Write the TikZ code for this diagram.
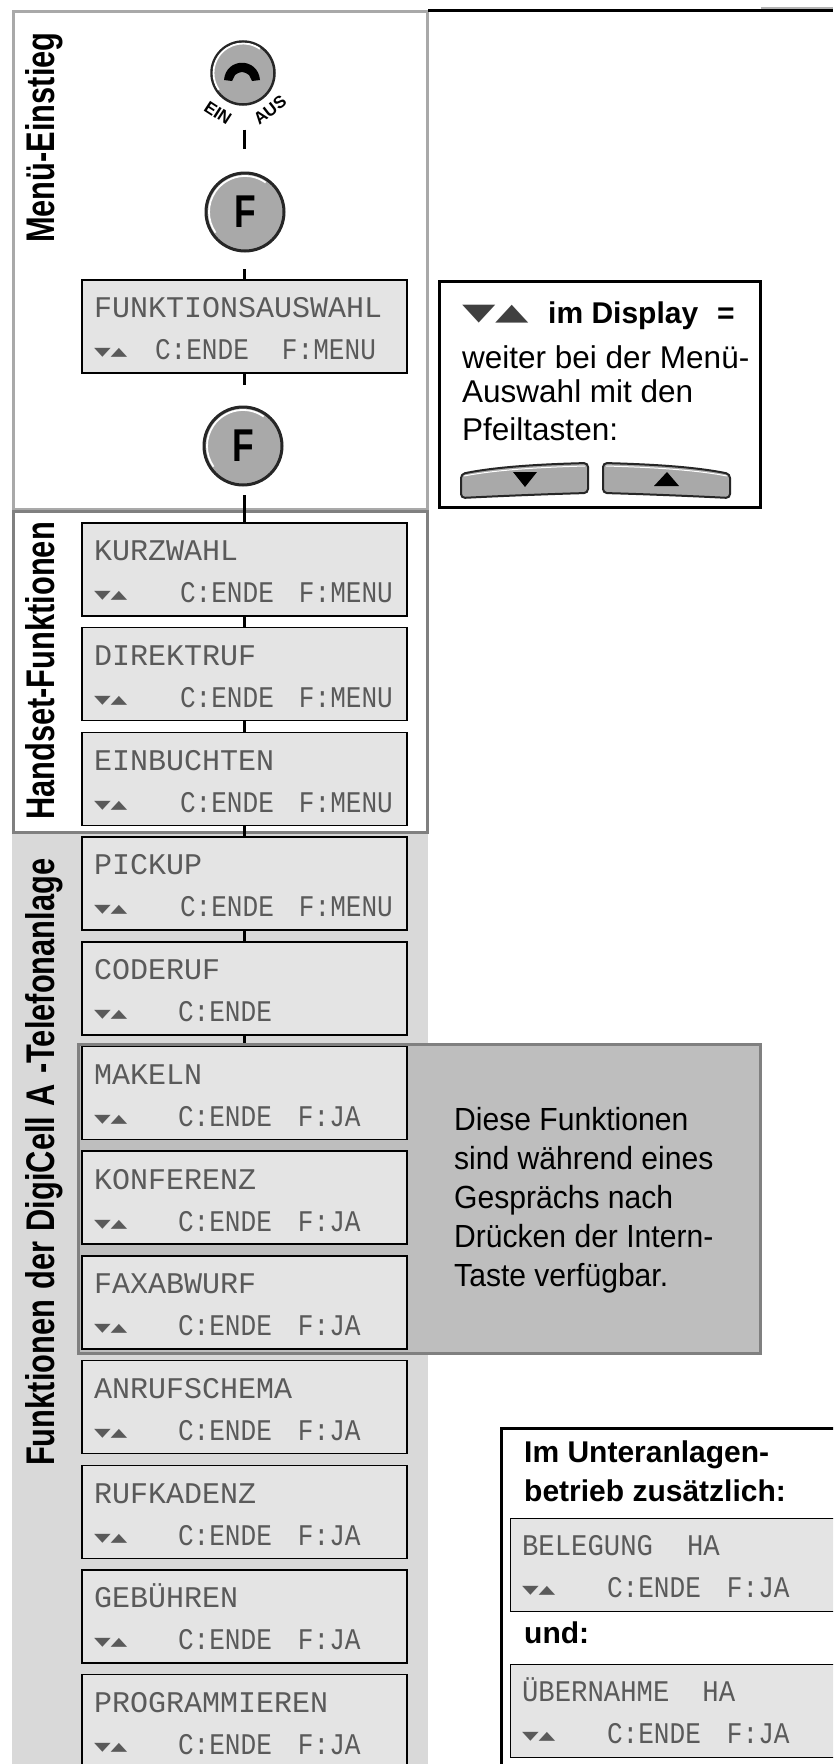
\documentclass[tikz,border=0pt]{standalone}
\usepackage{fontspec}
\usepackage{graphicx}
\usetikzlibrary{positioning}
\setmainfont{Liberation Sans}
\newfontfamily\lcdfont{Liberation Mono}
\newfontfamily\lcdlow[FakeStretch=.87]{Liberation Mono}
\newfontfamily\lcdmid[FakeStretch=.91]{Liberation Mono}
\newfontfamily\iconfont{DejaVu Sans}
\newfontfamily\narrowfont[FakeStretch=.94]{Liberation Sans}
\newfontfamily\sidefont[FakeStretch=.77]{Liberation Sans}
\definecolor{lcdgray}{HTML}{E4E4E4}
\definecolor{lcdink}{HTML}{5A5A5A}
\definecolor{bandgray}{HTML}{D9D9D9}
\definecolor{keygray}{HTML}{A9A9A9}
\definecolor{notegray}{HTML}{BEBEBE}
\newcommand{\arrowpair}{\scalebox{1.85}[1]{▾}\scalebox{1.85}[1]{▴}}
\newcommand{\lcdicon}{{\iconfont\fontsize{18}{18}\selectfont\raisebox{2pt}{\arrowpair}}}
\newcommand{\lcdtext}[3]{\rule{0pt}{25pt}{\lcdfont #1}\\\makebox[#2][l]{\lcdicon}{\lcdlow #3}}
\newcommand{\menuline}{C:ENDE\hspace{25pt}F:MENU}
\newcommand{\jaline}{C:ENDE\hspace{26pt}F:JA}

\begin{document}
\begin{tikzpicture}[x=1pt, y=-1pt, node distance=11.7pt,
lcd/.style={rectangle, draw=black, line width=1.5pt, fill=lcdgray, text=lcdink, outer sep=0pt, minimum width=325pt, minimum height=93pt, inner xsep=12pt, inner ysep=0pt, text width=301pt, align=left, font=\fontsize{30}{42}\selectfont},
fkey/.style={circle, draw=black!85, line width=3pt, fill=keygray, minimum size=78pt, inner sep=0pt, outer sep=0pt, font=\sidefont\bfseries\fontsize{46}{46}\selectfont},
keylight/.style={white, line width=1.8pt},
link/.style={line width=3pt, xshift=1.5pt},
sidelabel/.style={rotate=90, anchor=base west, inner sep=0pt, font=\sidefont\bfseries\fontsize{40}{40}\selectfont},
boldtext/.style={anchor=base west, inner sep=0pt, font=\bfseries\fontsize{30}{30}\selectfont},
arrowkey/.style={draw=black!85, line width=2pt, fill=keygray, rounded corners=4pt}]
\useasboundingbox (0,0) rectangle (833,1764);
\clip (0,0) rectangle (833,1764);
% panels
\fill[bandgray] (12,832) rectangle (428,1764);
\draw[keygray, line width=3pt, fill=white] (13,11) rectangle (427,509);
\draw[black!50, line width=3pt, fill=white] (13,511) rectangle (427,832);
\draw[black!50, line width=3pt, fill=notegray] (78,1044) rectangle (760,1353);
\draw[black!30, line width=1.5pt] (761,8) -- (833,8);
\draw[line width=3pt] (428,10) -- (833,10);
% side labels
\node[sidelabel] (menulabel) at (54,243) {Menü-Einstieg};
\node[sidelabel] (handsetlabel) at (54,820) {Handset-Funktionen};
\node[sidelabel] (digilabel) at (54,1466) {\spaceskip=10.3pt Funktionen der DigiCell A -Telefonanlage};
% keys
\node[circle, draw=black!85, line width=2.5pt, fill=keygray, minimum size=63pt, inner sep=0pt, outer sep=0pt] (phone) at (243,73) {};
\fill (224,80) .. controls (226,57) and (258,57) .. (260,80) -- (252,81) -- (249,75) .. controls (243,71) and (241,71) .. (235,75) -- (232,81) -- cycle;
\draw[keylight] (243,73) ++(55:29.5pt) arc[start angle=55, end angle=215, radius=29.5pt];
\node[font=\bfseries\fontsize{17}{17}\selectfont, rotate=-33, inner sep=0pt] (ein) at (218,113) {EIN};
\node[font=\bfseries\fontsize{17}{17}\selectfont, rotate=38, inner sep=0pt] (aus) at (270,110) {AUS};
\node[fkey] (keyone) at (245,212) {F};
\draw[keylight] (245,212) ++(55:36pt) arc[start angle=55, end angle=215, radius=36pt];
\node[fkey] (keytwo) at (243,446) {F};
\draw[keylight] (243,446) ++(55:36pt) arc[start angle=55, end angle=215, radius=36pt];
% displays
\node[lcd] (auswahl) at (244.5,326.5) {\lcdtext{FUNKTIONSAUSWAHL}{61pt}{C:ENDE\hspace{33pt}F:MENU}};
\node[lcd] (kurzwahl) at (244.5,569.5) {\lcdtext{KURZWAHL}{86pt}{\menuline}};
\node[lcd, below=of kurzwahl] (direktruf) {\lcdtext{DIREKTRUF}{86pt}{\menuline}};
\node[lcd, below=of direktruf] (einbuchten) {\lcdtext{EINBUCHTEN}{86pt}{\menuline}};
\node[lcd, below=of einbuchten] (pickup) {\lcdtext{PICKUP}{86pt}{\menuline}};
\node[lcd, below=of pickup] (coderuf) {\lcdtext{CODERUF}{84pt}{C:ENDE}};
\node[lcd, below=of coderuf] (makeln) {\lcdtext{MAKELN}{84pt}{\jaline}};
\node[lcd, below=of makeln] (konferenz) {\lcdtext{KONFERENZ}{84pt}{\jaline}};
\node[lcd, below=of konferenz] (faxabwurf) {\lcdtext{FAXABWURF}{84pt}{\jaline}};
\node[lcd, below=of faxabwurf] (anrufschema) {\lcdtext{ANRUFSCHEMA}{84pt}{\jaline}};
\node[lcd, below=of anrufschema] (rufkadenz) {\lcdtext{RUFKADENZ}{84pt}{\jaline}};
\node[lcd, below=of rufkadenz] (gebuehren) {\lcdtext{GEBÜHREN}{84pt}{\jaline}};
\node[lcd, below=of gebuehren] (programmieren) {\lcdtext{PROGRAMMIEREN}{84pt}{\jaline}};
% links
\draw[link, shorten <=25pt, shorten >=24pt] (auswahl |- phone.south) -- (auswahl |- keyone.north);
\draw[link, shorten <=18pt] (auswahl |- keyone.south) -- (auswahl.north);
\draw[link, shorten >=22pt] (auswahl.south) -- (auswahl |- keytwo.north);
\draw[link, shorten <=10pt] (auswahl |- keytwo.south) -- (kurzwahl.north);
\draw[link] (kurzwahl) -- (direktruf);
\draw[link] (direktruf) -- (einbuchten);
\draw[link] (einbuchten) -- (pickup);
\draw[link] (pickup) -- (coderuf);
\draw[link, shorten >=4pt] (coderuf.south) -- (makeln.north);
% note texts
\node[anchor=north west, inner sep=0pt, align=left, font=\narrowfont\fontsize{32}{39}\selectfont] (note) at (454,1107) {Diese Funktionen\\sind während eines\\Gesprächs nach\\Drücken der Intern-\\Taste verfügbar.};
% arrow key box
\draw[line width=3pt, fill=white] (439,281) rectangle (760,507);
\node[inner sep=0pt, anchor=base west, text=black!75, font=\iconfont\fontsize{36}{36}\selectfont] (dispicon) at (462,323) {\arrowpair};
\node[boldtext] (imdisplay) at (548,323) {im Display};
\node[boldtext] (gleich) at (717,323) {=};
\node[anchor=north west, inner sep=0pt, align=left, font=\fontsize{31.5}{34}\selectfont] (weiter) at (462,345) {weiter bei der Menü-\\Auswahl mit den\\[4pt]Pfeiltasten:};
\draw[arrowkey] (461,474) .. controls (500,466) and (550,464) .. (588,463) -- (588,493) .. controls (550,494) and (500,496) .. (461,498) -- cycle;
\draw[arrowkey] (603,463) .. controls (641,464) and (691,466) .. (730,474) -- (730,498) .. controls (691,496) and (641,494) .. (603,493) -- cycle;
\draw[keylight, line width=1pt] (464,476) .. controls (500,469) and (550,467) .. (585,466);
\draw[keylight, line width=1pt] (606,466) .. controls (641,467) and (691,469) .. (727,476);
\fill (513,472) -- (537,472) -- (525,487) -- cycle;
\fill (654,486) -- (679,486) -- (667,472) -- cycle;
% sub-system box
\draw[line width=3pt, fill=white] (840,1428) -- (501,1428) -- (501,1770);
\node[anchor=north west, inner sep=0pt, align=left, font=\bfseries\fontsize{30}{39}\selectfont] (unter) at (524,1441) {Im Unteranlagen-\\betrieb zusätzlich:};
\node[lcd, line width=1pt, minimum width=330pt, text width=306pt, anchor=north west] (belegung) at (510,1518) {\rule{0pt}{25pt}{\lcdmid BELEGUNG\hspace{34pt}HA}\\\makebox[85pt][l]{\lcdicon}{\lcdlow \jaline}};
\node[boldtext] (und) at (524,1643) {und:};
\node[lcd, line width=1pt, minimum width=330pt, text width=306pt, anchor=north west] (uebernahme) at (510,1664) {\rule{0pt}{25pt}{\lcdmid ÜBERNAHME\hspace{33pt}HA}\\\makebox[85pt][l]{\lcdicon}{\lcdlow \jaline}};
\end{tikzpicture}
\end{document}
